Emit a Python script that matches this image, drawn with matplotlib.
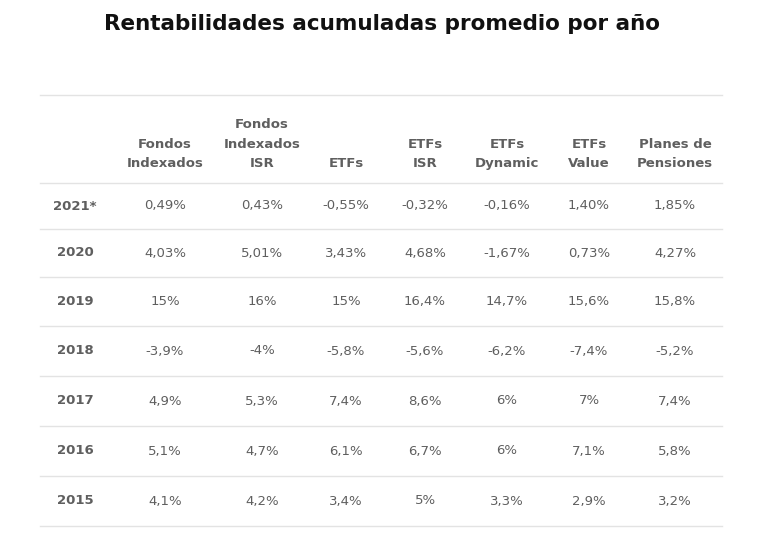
import matplotlib.pyplot as plt

title = 'Rentabilidades acumuladas promedio por año'
headers = ['', 'Fondos\nIndexados', 'Fondos\nIndexados\nISR', 'ETFs', 'ETFs\nISR',
           'ETFs\nDynamic', 'ETFs\nValue', 'Planes de\nPensiones']
years = ['2021*', '2020', '2019', '2018', '2017', '2016', '2015']
fondos_indexados = ['0,49%', '4,03%', '15%', '-3,9%', '4,9%', '5,1%', '4,1%']
fondos_isr = ['0,43%', '5,01%', '16%', '-4%', '5,3%', '4,7%', '4,2%']
etfs = ['-0,55%', '3,43%', '15%', '-5,8%', '7,4%', '6,1%', '3,4%']
etfs_isr = ['-0,32%', '4,68%', '16,4%', '-5,6%', '8,6%', '6,7%', '5%']
etfs_dynamic = ['-0,16%', '-1,67%', '14,7%', '-6,2%', '6%', '6%', '3,3%']
etfs_value = ['1,40%', '0,73%', '15,6%', '-7,4%', '7%', '7,1%', '2,9%']
planes = ['1,85%', '4,27%', '15,8%', '-5,2%', '7,4%', '5,8%', '3,2%']

columns = [years, fondos_indexados, fondos_isr, etfs, etfs_isr, etfs_dynamic, etfs_value, planes]
col_x = [75, 165, 262, 346, 425, 507, 589, 675]
line_y = [95, 183, 229, 277, 326, 376, 426, 476, 526]
text_color = '#5f5f5f'

fig = plt.figure(figsize=(7.81, 5.48), dpi=100)
ax = fig.add_axes([0, 0, 1, 1])
ax.set_xlim(0, 781)
ax.set_ylim(548, 0)
ax.axis('off')

ax.text(382, 24, title, ha='center', va='center', fontsize=15.5, fontweight='bold', color='#111111')

for y in line_y:
    ax.plot([40, 722], [y, y], color='#e3e3e3', linewidth=1)

for x, h in zip(col_x, headers):
    ax.text(x, 170, h, ha='center', va='bottom', fontsize=9.5, fontweight='bold',
            color=text_color, linespacing=1.65)

for ci, (x, col) in enumerate(zip(col_x, columns)):
    for ri, val in enumerate(col):
        y = (line_y[ri + 1] + line_y[ri + 2]) / 2
        ax.text(x, y, val, ha='center', va='center', fontsize=9.5,
                fontweight='bold' if ci == 0 else 'normal', color=text_color)

fig.savefig('out.png', dpi=100)
